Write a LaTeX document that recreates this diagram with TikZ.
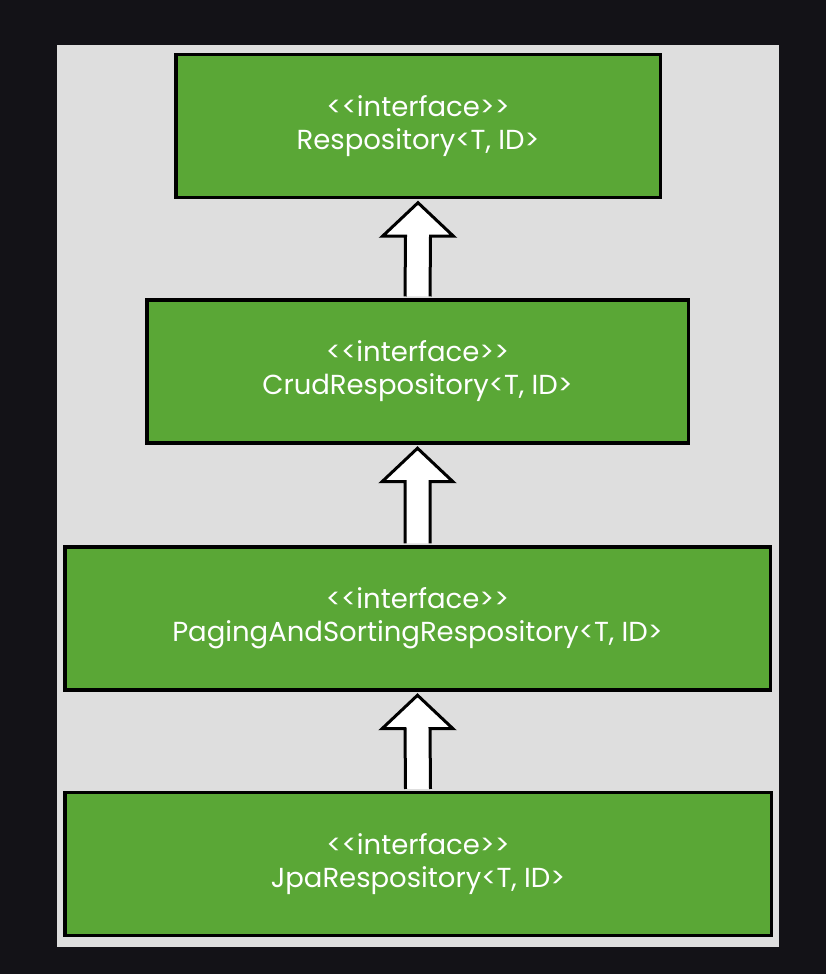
\documentclass[tikz,border=0pt]{standalone}
\usepackage{fontspec}
\setmainfont{Poppins}
\usetikzlibrary{calc}

\definecolor{pagedark}{HTML}{131217}
\definecolor{panelgray}{HTML}{DEDEDE}
\definecolor{boxgreen}{HTML}{5AA736}

\tikzset{
	box/.style={draw=black, line width=3.5pt, fill=boxgreen, text=white, align=center,
		inner sep=0pt, minimum height=143pt, font=\fontsize{27.5}{33}\selectfont},
	hollow/.style={draw=black, line width=3pt, fill=white, line join=miter},
}

\begin{document}
\begin{tikzpicture}[x=1pt, y=1pt]
				\useasboundingbox (0,0) rectangle (826,974);
				\fill[pagedark] (0,0) rectangle (826,974);
				\fill[panelgray] (57,27) rectangle (779,929);
				
				% the four interfaces
				\node[box, minimum width=484.5pt] (repo) at (418,848) {<{}<interface>{}>\\Respository<T, ID>};
				\node[box, minimum width=541.5pt] (crud) at (417.5,602.5) {<{}<interface>{}>\\CrudRespository<T, ID>};
				\node[box, minimum width=705.5pt] (paging) at (417.5,355.5) {<{}<interface>{}>\\PagingAndSortingRespository<T, ID>};
				\node[box, minimum width=706.5pt] (jpa) at (418,110) {<{}<interface>{}>\\JpaRespository<T, ID>};
				
				% hollow inheritance arrows
				\foreach \lo/\hi in {crud/repo, paging/crud, jpa/paging}
					\draw[hollow] ($(\lo.north)+(-12.5,1.75)$) -- ($(\hi.south)+(-12.5,-37)$) -- ($(\hi.south)+(-35.5,-37)$)
						-- ($(\hi.south)+(0,-3.5)$) -- ($(\hi.south)+(35.5,-37)$) -- ($(\hi.south)+(12.5,-37)$) -- ($(\lo.north)+(12.5,1.75)$);
			\end{tikzpicture}
\end{document}
